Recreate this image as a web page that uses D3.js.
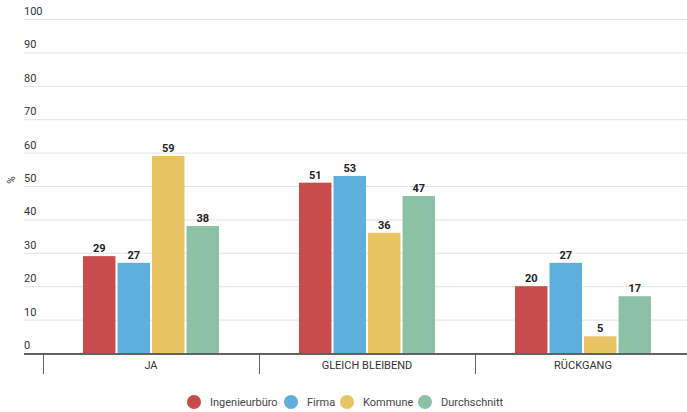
<!DOCTYPE html>
<html>
<head>
<meta charset="utf-8">
<script src="https://cdn.jsdelivr.net/npm/d3@7"></script>
<style>
  body { margin: 0; background: #fff; }
  text { font-family: Roboto, "Open Sans", sans-serif; }
</style>
</head>
<body>
<script>
// chart data
const categories = ["JA", "GLEICH BLEIBEND", "RÜCKGANG"]
const seriesNames = ["Ingenieurbüro", "Firma", "Kommune", "Durchschnitt"]
const ingenieurbuero = [29, 51, 20]
const firma = [27, 53, 27]
const kommune = [59, 36, 5]
const durchschnitt = [38, 47, 17]
const yTicks = [0, 10, 20, 30, 40, 50, 60, 70, 80, 90, 100]
const colors = ["#c94c4c", "#5db0de", "#e8c462", "#8bc2a5"]

const width = 687, height = 412
const seriesValues = [ingenieurbuero, firma, kommune, durchschnitt]

const svg = d3.select("body").append("svg")
    .attr("width", width)
    .attr("height", height)

// scales
const yScale = d3.scaleLinear()
    .domain([0, 100])
    .range([353, 19])

const xScale = d3.scaleBand()
    .domain(categories)
    .range([43, 691])

// inner scale for the 4 bars in each group
const groupWidth = 136
const xInner = d3.scaleBand()
    .domain(seriesNames)
    .range([0, groupWidth])
    .paddingInner(0.06)

// gridlines + y labels
const grid = svg.append("g")
grid.selectAll("line")
    .data(yTicks)
    .enter()
    .append("line")
    .attr("x1", 24)
    .attr("x2", width)
    .attr("y1", d => yScale(d) + 0.5)
    .attr("y2", d => yScale(d) + 0.5)
    .attr("stroke", "#e3e3e3")
    .attr("stroke-width", 1)

grid.selectAll("text")
    .data(yTicks)
    .enter()
    .append("text")
    .text(d => d)
    .attr("x", 24)
    .attr("y", d => yScale(d) - 4)
    .attr("font-size", "11px")
    .attr("fill", "#333")

// unit label
svg.append("text")
    .text("%")
    .attr("transform", "translate(15,180) rotate(-90)")
    .attr("text-anchor", "middle")
    .attr("font-size", "10px")
    .attr("fill", "#333")

// bars
seriesNames.forEach((name, i) => {
    const g = svg.append("g")
    g.selectAll("rect")
        .data(categories)
        .enter()
        .append("rect")
        .attr("x", (c) => xScale(c) + (xScale.bandwidth() - groupWidth) / 2 + xInner(name))
        .attr("y", (c, j) => yScale(seriesValues[i][j]))
        .attr("width", xInner.bandwidth())
        .attr("height", (c, j) => yScale(0) - yScale(seriesValues[i][j]))
        .attr("fill", colors[i])

    g.selectAll("text")
        .data(categories)
        .enter()
        .append("text")
        .text((c, j) => seriesValues[i][j])
        .attr("x", (c) => xScale(c) + (xScale.bandwidth() - groupWidth) / 2 + xInner(name) + xInner.bandwidth() / 2)
        .attr("y", (c, j) => yScale(seriesValues[i][j]) - 4)
        .attr("text-anchor", "middle")
        .attr("font-size", "11px")
        .attr("font-weight", "bold")
        .attr("fill", "#222")
})

// x axis
const xAxis = svg.append("g")
xAxis.append("line")
    .attr("x1", 24)
    .attr("x2", width)
    .attr("y1", 354)
    .attr("y2", 354)
    .attr("stroke", "#333")
    .attr("stroke-width", 1.5)

const edges = categories.map(c => xScale(c))
xAxis.selectAll(".tick")
    .data(edges)
    .enter()
    .append("line")
    .attr("class", "tick")
    .attr("x1", d => Math.round(d) + 0.5)
    .attr("x2", d => Math.round(d) + 0.5)
    .attr("y1", 354)
    .attr("y2", 374)
    .attr("stroke", "#666")
    .attr("stroke-width", 1)

xAxis.selectAll("text")
    .data(categories)
    .enter()
    .append("text")
    .text(d => d)
    .attr("x", d => xScale(d) + xScale.bandwidth() / 2)
    .attr("y", 369)
    .attr("text-anchor", "middle")
    .attr("font-size", "11px")
    .attr("fill", "#333")

// legend
const legendX = [194, 291, 347, 425]
const legend = svg.append("g")
seriesNames.forEach((name, i) => {
    legend.append("circle")
        .attr("cx", legendX[i])
        .attr("cy", 402)
        .attr("r", 7)
        .attr("fill", colors[i])
    legend.append("text")
        .text(name)
        .attr("x", legendX[i] + 16)
        .attr("y", 406)
        .attr("font-size", "11px")
        .attr("fill", "#444")
})
</script>
</body>
</html>
